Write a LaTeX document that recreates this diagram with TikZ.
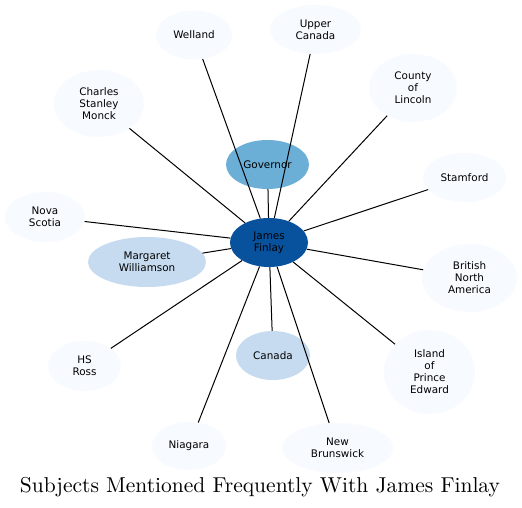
\documentclass[tikz,border=0pt]{standalone}
\usepackage{fontspec}
\usetikzlibrary{shapes.geometric}
\newfontfamily\labelfont{DejaVu Sans}
\definecolor{periph}{HTML}{F7FBFF}
\definecolor{midblue}{HTML}{6BAED6}
\definecolor{lightblue}{HTML}{C6DBEF}
\definecolor{darkblue}{HTML}{08519C}
\tikzset{
  ent/.style={ellipse, fill=periph, inner sep=0pt, align=center,
    font=\labelfont\fontsize{10.4}{12}\selectfont, text=black},
  link/.style={draw=black, line width=1pt},
}
\begin{document}
\begin{tikzpicture}[x=1pt,y=-1pt]
\useasboundingbox (0,0) rectangle (522,508);
\fill[white] (0,0) rectangle (522,508);
% nodes
\node[ent, minimum width=76pt, minimum height=49pt] (wel) at (194,35) {Welland};
\node[ent, minimum width=91pt, minimum height=49pt] (upc) at (315.5,29.5) {Upper\\Canada};
\node[ent, minimum width=90pt, minimum height=67pt] (csm) at (99,103.5) {Charles\\Stanley\\Monck};
\node[ent, minimum width=88pt, minimum height=68pt] (col) at (413,88) {County\\of\\Lincoln};
\node[ent, fill=midblue, minimum width=83pt, minimum height=49pt] (gov) at (267.5,164.5) {Governor};
\node[ent, minimum width=83pt, minimum height=49pt] (sta) at (464.5,177.5) {Stamford};
\node[ent, minimum width=80pt, minimum height=50pt] (nov) at (45,217) {Nova\\Scotia};
\node[ent, fill=lightblue, minimum width=118pt, minimum height=50pt] (mar) at (147,262) {Margaret\\Williamson};
\node[ent, minimum width=95pt, minimum height=68pt] (bna) at (469.5,278) {British\\North\\America};
\node[ent, minimum width=73pt, minimum height=50pt] (hsr) at (84.5,366) {HS\\Ross};
\node[ent, fill=lightblue, minimum width=74pt, minimum height=49pt] (can) at (273,355.5) {Canada};
\node[ent, minimum width=91pt, minimum height=84pt] (ipe) at (429.5,372) {Island\\of\\Prince\\Edward};
\node[ent, minimum width=74pt, minimum height=48pt] (nia) at (189,446) {Niagara};
\node[ent, minimum width=111pt, minimum height=50pt] (nbr) at (337.5,448) {New\\Brunswick};
\node[ent, fill=darkblue, minimum width=78pt, minimum height=49pt] (jf) at (269,242.5) {James\\Finlay};
% edges
\foreach \t in {wel,upc,csm,col,gov,sta,nov,mar,bna,hsr,can,ipe,nia,nbr}
  \draw[link] (jf) -- (\t);
% title
\node[inner sep=0pt] (title) at (260,487) {\resizebox{480pt}{!}{Subjects Mentioned Frequently With James Finlay}};
\end{tikzpicture}
\end{document}
